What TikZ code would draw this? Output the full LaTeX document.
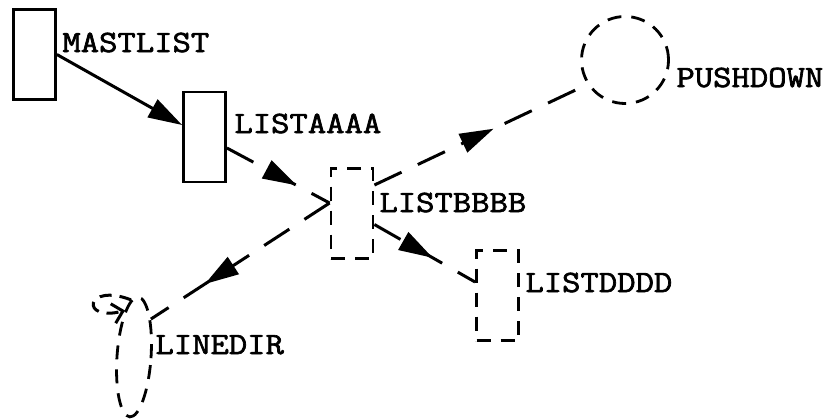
\documentclass[tikz,border=0pt]{standalone}
\usepackage{fontspec}
\newfontfamily\listfont{Latin Modern Mono}[FakeBold=2]
\usetikzlibrary{arrows.meta,decorations.markings,shapes.geometric}

\newcommand{\lname}[1]{\scalebox{1.15}[1]{#1}}

\tikzset{
  dashline/.style={draw, line width=1.4pt, dash pattern=on 7pt off 5pt},
  listbox/.style={draw, line width=1.4pt, minimum width=21pt, minimum height=45pt, inner sep=0pt},
  dashbox/.style={listbox, dashline},
  lbl/.style={anchor=base west, inner sep=0pt, font={\listfont\fontsize{15.5}{18}\selectfont}},
  flow/.style={line width=1.5pt, dash pattern=on 15pt off 9pt},
  midarrow/.style={postaction={decorate}, decoration={markings,
    mark=at position #1 with {\arrow{Triangle[length=17pt,width=10pt]}}}},
}

\begin{document}
\begin{tikzpicture}[x=0.5pt,y=-0.5pt]
    \useasboundingbox (0,0) rectangle (828,419);
    % the lists
    \node[listbox] (mast) at (34.5,54.5) {};
    \node[listbox] (aaaa) at (204.5,137) {};
    \node[dashbox] (bbbb) at (352,213.5) {};
    \node[dashbox] (dddd) at (497.5,295.5) {};
    \node[circle, dashline, minimum size=43.5pt, inner sep=0pt] (pd) at (625,60) {};
    \node[ellipse, dashline, minimum width=17pt, minimum height=60pt, inner sep=0pt, rotate=-4] (ld) at (134,357) {};
    % names
    \node[lbl] (mastlbl) at (62,52) {\lname{MASTLIST}};
    \node[lbl] (aaaalbl) at (234,133) {\lname{LISTAAAA}};
    \node[lbl] (bbbblbl) at (379,212) {\lname{LISTBBBB}};
    \node[lbl] (pdlbl) at (676,87) {\lname{PUSHDOWN}};
    \node[lbl] (ddddlbl) at (525,292) {\lname{LISTDDDD}};
    \node[lbl] (ldlbl) at (155,354) {\lname{LINEDIR}};
    % links
    \draw[line width=1.5pt, -{Triangle[length=17pt,width=10pt]}] (mast.east) -- ([yshift=6pt]aaaa.west);
    \coordinate (bjoin) at ([yshift=5.25pt]bbbb.west);
    \draw[flow, midarrow=0.68] ([yshift=-5.5pt]aaaa.east) -- (bjoin);
    \draw[flow, midarrow=0.70] (bjoin) -- (ld.70);
    \draw[flow, midarrow=0.56] ([yshift=14.25pt]bbbb.east) -- (pd.213);
    \draw[flow, midarrow=0.58] ([yshift=-5.5pt]bbbb.east) -- ([yshift=6.75pt]dddd.west);
    \draw[line width=1.5pt, dash pattern=on 6pt off 4pt, -{Straight Barb[length=5pt,width=10pt]}]
      (ld.97) .. controls (85,282) and (80,322) .. (ld.105);
\end{tikzpicture}
\end{document}
